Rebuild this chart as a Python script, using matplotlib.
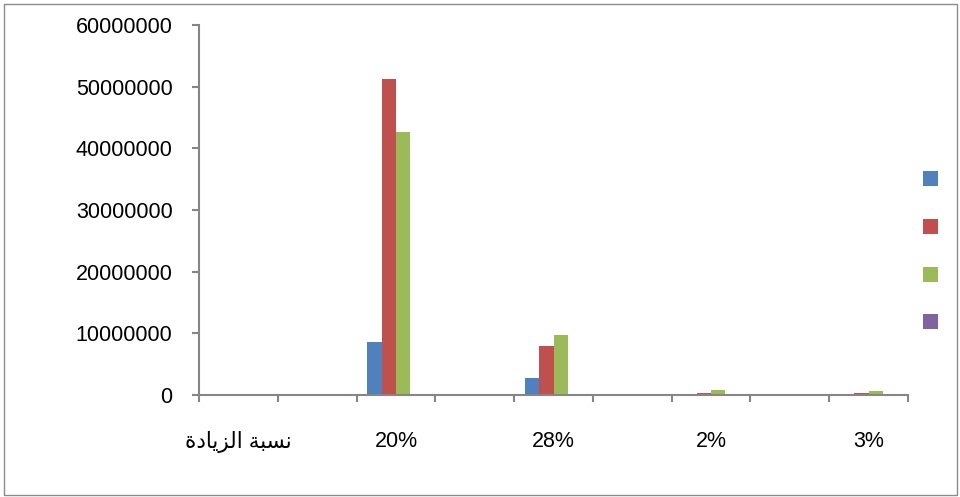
import numpy as np
import matplotlib
matplotlib.use("Agg")
import matplotlib.pyplot as plt
from matplotlib.patches import Rectangle

plt.rcParams['font.family'] = ['Liberation Sans', 'DejaVu Sans']

# categorias (Excel solo muestra una etiqueta de cada dos)
categorias = ["نسبة الزيادة", "", "20%", "", "28%", "", "2%", "", "3%"]
serie_azul = [0, 0, 8600000, 0, 2800000, 0, 0, 0, 0]
serie_roja = [0, 0, 51200000, 0, 7900000, 0, 250000, 0, 400000]
serie_verde = [0, 0, 42600000, 0, 9700000, 0, 850000, 0, 700000]
serie_morada = [0, 0, 0, 0, 0, 0, 0, 0, 0]
yticks = [0, 10000000, 20000000, 30000000, 40000000, 50000000, 60000000]

colores = ["#4F81BD", "#C0504D", "#9BBB59", "#8064A2"]


def shapeArabic(texto):
    # matplotlib no une las letras arabes, se usan las formas de presentacion
    formas = {
        "ن": (0xFEE5, 0xFEE6, 0xFEE7, 0xFEE8), "س": (0xFEB1, 0xFEB2, 0xFEB3, 0xFEB4),
        "ب": (0xFE8F, 0xFE90, 0xFE91, 0xFE92), "ل": (0xFEDD, 0xFEDE, 0xFEDF, 0xFEE0),
        "ي": (0xFEF1, 0xFEF2, 0xFEF3, 0xFEF4), "ة": (0xFE93, 0xFE94),
        "ا": (0xFE8D, 0xFE8E), "ز": (0xFEAF, 0xFEB0), "د": (0xFEA9, 0xFEAA),
    }
    if not any(c in formas for c in texto):
        return texto
    salida = []
    for i, c in enumerate(texto):
        if c not in formas:
            salida.append(c)
            continue
        prev = texto[i - 1] if i > 0 else ""
        nxt = texto[i + 1] if i + 1 < len(texto) else ""
        une_prev = prev in formas and len(formas[prev]) == 4
        une_next = len(formas[c]) == 4 and nxt in formas
        if une_prev and une_next:
            k = 3
        elif une_prev:
            k = 1
        elif une_next:
            k = 2
        else:
            k = 0
        salida.append(chr(formas[c][k]))
    return "".join(reversed(salida))


fig = plt.figure(figsize=(9.6, 4.97), dpi=100)
ax = fig.add_axes([199 / 960, 1 - 395 / 497, (908 - 199) / 960, (395 - 25) / 497])

x = np.arange(len(categorias))
w = 1 / 5.5
series = [serie_azul, serie_roja, serie_verde, serie_morada]
barras = []
for i, s in enumerate(series):
    b = ax.bar(x + (i - 1.5) * w, s, width=w, color=colores[i], linewidth=0)
    barras.append(b)

ax.set_xlim(-0.5, len(categorias) - 0.5)
ax.set_ylim(0, 60000000)
ax.set_yticks(yticks)
ax.set_yticklabels([str(v) for v in yticks])
ax.set_xticks(x)
ax.set_xticklabels([shapeArabic(c) for c in categorias])
ax.set_xticks(np.arange(len(categorias) + 1) - 0.5, minor=True)

for lado in ["top", "right"]:
    ax.spines[lado].set_visible(False)
for lado in ["left", "bottom"]:
    ax.spines[lado].set_color("#868686")
    ax.spines[lado].set_linewidth(1.5)

ax.tick_params(axis="y", length=5, width=1.5, color="#868686", pad=14, labelsize=15.5)
ax.tick_params(axis="x", which="major", length=0, pad=26, labelsize=15.5)
ax.tick_params(axis="x", which="minor", length=5, width=1.5, color="#868686")

ax.legend(barras, ["", "", "", ""], loc="center left", bbox_to_anchor=(923 / 960, 1 - 251 / 497),
          bbox_transform=fig.transFigure, frameon=False, fontsize=12,
          handlelength=0.9, handleheight=1, handletextpad=0, borderpad=0,
          borderaxespad=0, labelspacing=1.89)

fig.add_artist(Rectangle((4 / 960, 2 / 497), 953 / 960, 491 / 497, transform=fig.transFigure,
                         fill=False, edgecolor="#8c8c8c", linewidth=1))

fig.savefig("out.png", dpi=100)
